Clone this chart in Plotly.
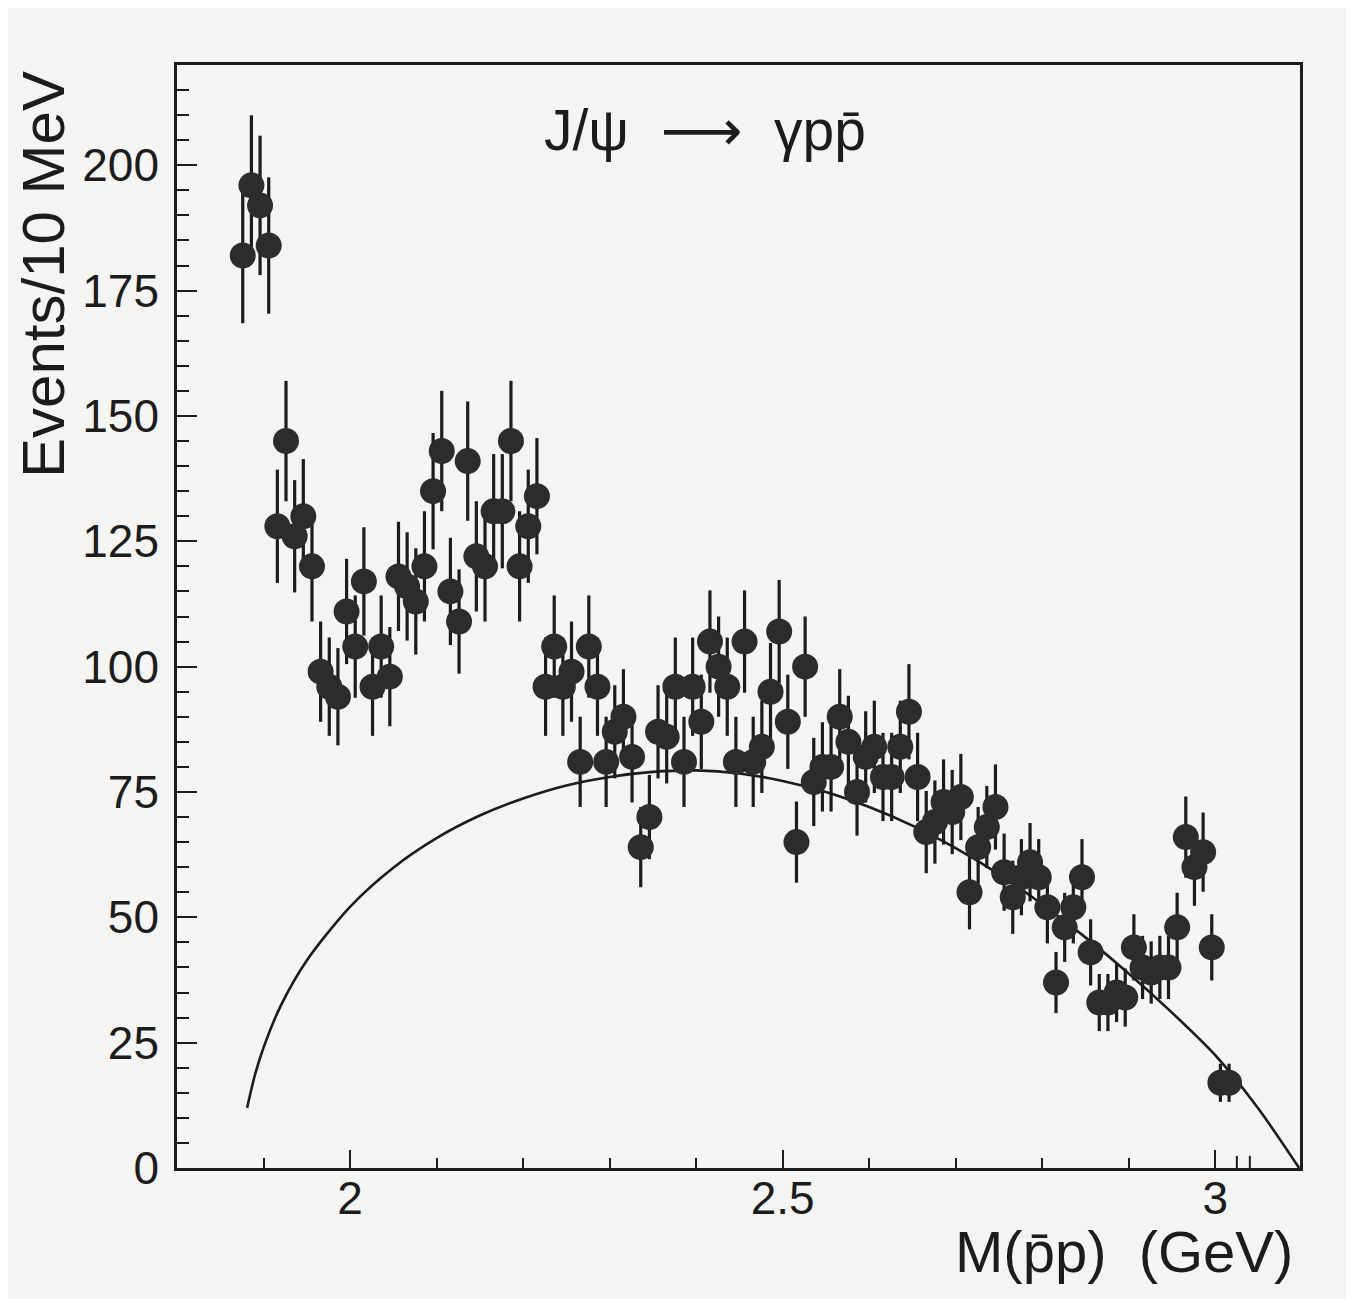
import plotly.graph_objects as go

# ---- data ----
mass = [1.876, 1.886, 1.896, 1.906, 1.916, 1.926, 1.936, 1.946, 1.956, 1.966,
        1.976, 1.986, 1.996, 2.006, 2.016, 2.026, 2.036, 2.046, 2.056, 2.066,
        2.076, 2.086, 2.096, 2.106, 2.116, 2.126, 2.136, 2.146, 2.156, 2.166,
        2.176, 2.186, 2.196, 2.206, 2.216, 2.226, 2.236, 2.246, 2.256, 2.266,
        2.276, 2.286, 2.296, 2.306, 2.316, 2.326, 2.336, 2.346, 2.356, 2.366,
        2.376, 2.386, 2.396, 2.406, 2.416, 2.426, 2.436, 2.446, 2.456, 2.466,
        2.476, 2.486, 2.496, 2.506, 2.516, 2.526, 2.536, 2.546, 2.556, 2.566,
        2.576, 2.586, 2.596, 2.606, 2.616, 2.626, 2.636, 2.646, 2.656, 2.666,
        2.676, 2.686, 2.696, 2.706, 2.716, 2.726, 2.736, 2.746, 2.756, 2.766,
        2.776, 2.786, 2.796, 2.806, 2.816, 2.826, 2.836, 2.846, 2.856, 2.866,
        2.876, 2.886, 2.896, 2.906, 2.916, 2.926, 2.936, 2.946, 2.956, 2.966,
        2.976, 2.986, 2.996, 3.006, 3.016]

events = [182, 196, 192, 184, 128, 145, 126, 130, 120, 99,
          96, 94, 111, 104, 117, 96, 104, 98, 118, 116,
          113, 120, 135, 143, 115, 109, 141, 122, 120, 131,
          131, 145, 120, 128, 134, 96, 104, 96, 99, 81,
          104, 96, 81, 87, 90, 82, 64, 70, 87, 86,
          96, 81, 96, 89, 105, 100, 96, 81, 105, 81,
          84, 95, 107, 89, 65, 100, 77, 80, 80, 90,
          85, 75, 82, 84, 78, 78, 84, 91, 78, 67,
          69, 73, 71, 74, 55, 64, 68, 72, 59, 54,
          58, 61, 58, 52, 37, 48, 52, 58, 43, 33,
          33, 35, 34, 44, 40, 39, 40, 40, 48, 66,
          60, 63, 44, 17, 17]

errors = [13.5, 14.0, 13.9, 13.6, 11.3, 12.0, 11.2, 11.4, 11.0, 10.0,
          9.8, 9.7, 10.5, 10.2, 10.8, 9.8, 10.2, 9.9, 10.9, 10.8,
          10.6, 11.0, 11.6, 12.0, 10.7, 10.4, 11.9, 11.0, 11.0, 11.4,
          11.4, 12.0, 11.0, 11.3, 11.6, 9.8, 10.2, 9.8, 10.0, 9.0,
          10.2, 9.8, 9.0, 9.3, 9.5, 9.1, 8.0, 8.4, 9.3, 9.3,
          9.8, 9.0, 9.8, 9.4, 10.2, 10.0, 9.8, 9.0, 10.2, 9.0,
          9.2, 9.7, 10.3, 9.4, 8.1, 10.0, 8.8, 8.9, 8.9, 9.5,
          9.2, 8.7, 9.1, 9.2, 8.8, 8.8, 9.2, 9.5, 8.8, 8.2,
          8.3, 8.5, 8.4, 8.6, 7.4, 8.0, 8.2, 8.5, 7.7, 7.3,
          7.6, 7.8, 7.6, 7.2, 6.1, 6.9, 7.2, 7.6, 6.6, 5.7,
          5.7, 5.9, 5.8, 6.6, 6.3, 6.2, 6.3, 6.3, 6.9, 8.1,
          7.7, 7.9, 6.6, 3.8, 3.8]

# smooth background curve (phase-space like)
curve_mass = [1.881, 1.89, 1.90, 1.92, 1.95, 2.00, 2.05, 2.10, 2.15, 2.20,
              2.25, 2.30, 2.35, 2.40, 2.45, 2.50, 2.55, 2.60, 2.65, 2.70,
              2.75, 2.80, 2.85, 2.90, 2.95, 3.00, 3.05, 3.097]
curve_events = [12, 18.5, 24, 32.4, 41.4, 52.1, 59.9, 65.8, 70.3, 73.7,
                76.3, 78.0, 79.0, 79.3, 78.7, 77.2, 75.0, 72.0, 68.3, 63.8,
                58.6, 52.6, 46.0, 38.8, 31.0, 22.5, 11.8, 0]

x_tick_vals = [2, 2.5, 3]
x_tick_text = ["2", "2.5", "3"]
y_tick_vals = [0, 25, 50, 75, 100, 125, 150, 175, 200]
extra_x_ticks = [3.025, 3.04]

FONT = "Liberation Sans, Arial, DejaVu Sans, sans-serif"
INK = "#1c1c1c"

fig = go.Figure()

fig.add_trace(go.Scatter(
    x=curve_mass, y=curve_events, mode="lines",
    line=dict(color=INK, width=2.6, shape="spline", smoothing=0.8),
    hoverinfo="skip", showlegend=False))

fig.add_trace(go.Scatter(
    x=mass, y=events, mode="markers",
    marker=dict(size=26, color="#2c2c2e", line=dict(width=0)),
    error_y=dict(type="data", array=errors, visible=True,
                 color=INK, thickness=3.2, width=0),
    showlegend=False))

for xv in extra_x_ticks:
    fig.add_shape(type="line", xref="x", yref="paper",
                  x0=xv, x1=xv, y0=0, y1=0.011,
                  line=dict(color=INK, width=2))

fig.add_annotation(x=2.41, y=207, xref="x", yref="y",
                   xanchor="center", yanchor="middle",
                   text="J/\u03c8  \u27f6  \u03b3pp\u0304",
                   showarrow=False, font=dict(family=FONT, size=57, color=INK))

fig.add_annotation(xref="paper", yref="paper", x=-0.119, y=0.81,
                   xanchor="center", yanchor="middle",
                   text="Events/10 MeV", textangle=-90, showarrow=False,
                   font=dict(family=FONT, size=60, color=INK))

fig.add_annotation(xref="paper", yref="paper", x=0.9955, y=-0.076,
                   xanchor="right", yanchor="middle",
                   text="M(p\u0304p)  (GeV)", showarrow=False,
                   font=dict(family=FONT, size=58, color=INK))

fig.update_xaxes(
    range=[1.8, 3.098], showgrid=False, zeroline=False,
    showline=True, linecolor=INK, linewidth=2.6, mirror=True,
    ticks="inside", ticklen=18, tickwidth=2, tickcolor=INK,
    tickvals=x_tick_vals, ticktext=x_tick_text,
    ticklabelstandoff=-12,
    minor=dict(ticks="inside", ticklen=10, tickwidth=2, tickcolor=INK,
               dtick=0.1, tick0=1.8, showgrid=False),
    tickfont=dict(family=FONT, size=46, color=INK))

fig.update_yaxes(
    range=[0, 220], showgrid=False, zeroline=False,
    showline=True, linecolor=INK, linewidth=2.6, mirror=True,
    ticks="inside", ticklen=20, tickwidth=2, tickcolor=INK,
    tickvals=y_tick_vals, ticklabelstandoff=6,
    minor=dict(ticks="inside", ticklen=12, tickwidth=2, tickcolor=INK,
               dtick=5, tick0=0, showgrid=False),
    tickfont=dict(family=FONT, size=46, color=INK))

fig.update_layout(
    width=1346, height=1291,
    margin=dict(l=169, r=54, t=57, b=131),
    paper_bgcolor="#f4f4f2", plot_bgcolor="#f4f4f2",
    showlegend=False)

fig.write_html("out.html")
